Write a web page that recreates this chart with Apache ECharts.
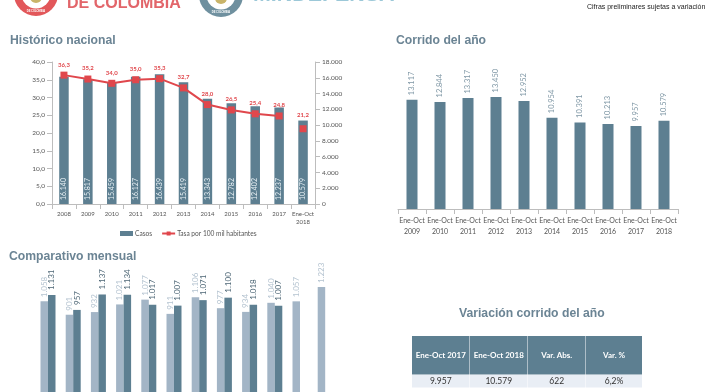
<!DOCTYPE html>
<html><head><meta charset="utf-8">
<style>html,body{margin:0;padding:0;background:#fff;overflow:hidden}#c{width:706px;height:392px}</style>
<script src="https://cdn.jsdelivr.net/npm/echarts@6/dist/echarts.min.js"></script>
</head><body><div id="c"></div>
<script>
const histYears = ['2008','2009','2010','2011','2012','2013','2014','2015','2016','2017','Ene-Oct\n2018'];
const histCases = [16140,15817,15459,16127,16439,15419,13343,12782,12402,12237,10579];
const histRate = [36.3,35.2,34.0,35.0,35.3,32.7,28.0,26.5,25.4,24.8,null];
const histRateLast = [null,null,null,null,null,null,null,null,null,null,21.2];
const ytdYears = ['Ene-Oct\n2009','Ene-Oct\n2010','Ene-Oct\n2011','Ene-Oct\n2012','Ene-Oct\n2013','Ene-Oct\n2014','Ene-Oct\n2015','Ene-Oct\n2016','Ene-Oct\n2017','Ene-Oct\n2018'];
const ytdCases = [13117,12844,13317,13450,12952,10954,10391,10213,9957,10579];
const months = ['Ene','Feb','Mar','Abr','May','Jun','Jul','Ago','Sep','Oct','Nov','Dic'];
const month2017 = [1058,901,932,1021,1077,911,1106,977,934,1040,1057,1223];
const month2018 = [1131,957,1137,1134,1017,1007,1071,1100,1018,1007,null,null];
const tableHead = ['Ene-Oct 2017','Ene-Oct 2018','Var. Abs.','Var. %'];
const tableRow = ['9.957','10.579','622','6,2%'];

const TEAL='#5d7f91', LIGHT='#a3b5c6', RED='#e0474c', TITLE='#6b8494', F='Lato, "Open Sans", sans-serif';
const dots = v => v==null ? '' : String(v).replace(/\B(?=(\d{3})+$)/g,'.');
const comma = v => Number(v).toFixed(1).replace('.',',');
const axisLine = {lineStyle:{color:'#bdbdbd',width:1}};
const title = (t,x,y) => ({type:'text',x,y,style:{text:t,fill:TITLE,font:'bold 12.2px "Liberation Sans", Arial, sans-serif'},silent:true});

const colX=[412,470,528,586], colW=[57.5,57.5,57.5,56];
const tableEls=[];
tableHead.forEach((h,i)=>{
  tableEls.push({type:'rect',shape:{x:colX[i],y:336,width:colW[i],height:38.5},style:{fill:TEAL},silent:true});
  tableEls.push({type:'rect',shape:{x:colX[i],y:375,width:colW[i],height:12.5},style:{fill:'#e9eef5'},silent:true});
  tableEls.push({type:'text',x:colX[i]+colW[i]/2,y:355,style:{text:h,fill:'#fff',font:'bold 8px '+F,align:'center',verticalAlign:'middle'},silent:true});
  tableEls.push({type:'text',x:colX[i]+colW[i]/2,y:381.5,style:{text:tableRow[i],fill:'#333',font:'8.5px '+F,align:'center',verticalAlign:'middle'},silent:true});
});

const logoEls=[
  {type:'circle',shape:{cx:36,cy:-6,r:22},style:{fill:'#e2575a'},silent:true},
  {type:'circle',shape:{cx:36,cy:-6,r:14.5},style:{fill:'#fff'},silent:true},
  {type:'circle',shape:{cx:36,cy:-3,r:6},style:{fill:'#c9b46a'},silent:true},
  {type:'text',x:36,y:11.5,style:{text:'DE COLOMBIA',fill:'#fff',font:'bold 2.6px sans-serif',align:'center',verticalAlign:'middle'},silent:true},
  {type:'text',x:67,y:3.5,style:{text:'DE COLOMBIA',fill:'#e2656a',font:'bold 16px "Liberation Sans", Arial, sans-serif',verticalAlign:'middle'},silent:true},
  {type:'circle',shape:{cx:221,cy:-5,r:22},style:{fill:'#6f909f'},silent:true},
  {type:'circle',shape:{cx:221,cy:-5,r:14.5},style:{fill:'#fff'},silent:true},
  {type:'circle',shape:{cx:221,cy:-2,r:6},style:{fill:'#c9b46a'},silent:true},
  {type:'text',x:221,y:12.5,style:{text:'DE COLOMBIA',fill:'#fff',font:'bold 2.6px sans-serif',align:'center',verticalAlign:'middle'},silent:true},
  {type:'text',x:253,y:-5.2,style:{text:'MINDEFENSA',fill:'#9cc8d8',font:'bold 21.4px "Liberation Sans", Arial, sans-serif',verticalAlign:'middle'},silent:true},
  {type:'text',x:587,y:7.5,style:{text:'Cifras preliminares sujetas a variación',fill:'#222',font:'7px "Liberation Sans", Arial, sans-serif',verticalAlign:'middle'},silent:true}
];

const chart = echarts.init(document.getElementById('c'),null,{renderer:'canvas'});
chart.setOption({
  animation:false,
  backgroundColor:'#fff',
  textStyle:{fontFamily:F},
  grid:[
    {left:52,top:62,width:263,height:142},
    {left:398,top:59,width:280,height:150},
    {left:35.4,top:280.5,width:302.4,height:123.5}
  ],
  legend:{
    left:115,top:225,itemWidth:13,itemHeight:5,itemGap:9,
    textStyle:{fontSize:6.6,color:'#555',fontFamily:F,padding:[0,0,0,-3]},
    data:[{name:'Casos',icon:'rect',itemStyle:{color:TEAL}},{name:'Tasa por 100 mil habitantes'}]
  },
  xAxis:[
    {type:'category',gridIndex:0,data:histYears,axisLine,axisTick:{show:true,lineStyle:{color:'#bdbdbd'}},axisLabel:{fontSize:6,color:'#555',interval:0,lineHeight:8,margin:6}},
    {type:'category',gridIndex:1,data:ytdYears,axisLine,axisTick:{show:true,lineStyle:{color:'#bdbdbd'}},axisLabel:{fontSize:7,color:'#555',interval:0,lineHeight:11,margin:6}},
    {type:'category',gridIndex:2,data:months,axisLine:{show:false},axisTick:{show:false},axisLabel:{show:false}}
  ],
  yAxis:[
    {type:'value',gridIndex:0,min:0,max:40,interval:5,splitLine:{show:false},axisLine:{show:true,lineStyle:axisLine.lineStyle},axisTick:{show:true,lineStyle:{color:'#bdbdbd'}},axisLabel:{fontSize:6.5,color:'#555',margin:7,formatter:comma}},
    {type:'value',gridIndex:0,min:0,max:18000,interval:2000,position:'right',splitLine:{show:false},axisLine:{show:true,lineStyle:axisLine.lineStyle},axisTick:{show:true,lineStyle:{color:'#bdbdbd'}},axisLabel:{fontSize:6.5,color:'#555',margin:7,formatter:dots}},
    {type:'value',gridIndex:1,min:0,max:18000,show:false,splitLine:{show:false}},
    {type:'value',gridIndex:2,min:0,max:1300,show:false,splitLine:{show:false}}
  ],
  series:[
    {name:'Casos',type:'bar',xAxisIndex:0,yAxisIndex:1,data:histCases,barWidth:9.5,itemStyle:{color:TEAL},
      label:{show:true,position:'insideBottom',rotate:90,align:'left',verticalAlign:'middle',distance:4,fontSize:7,color:'#e8f0f4',formatter:p=>dots(p.value)}},
    {name:'Tasa por 100 mil habitantes',type:'line',xAxisIndex:0,yAxisIndex:0,data:histRate,connectNulls:false,symbol:'rect',symbolSize:7,
      lineStyle:{color:RED,width:2},itemStyle:{color:RED},
      label:{show:true,position:'top',distance:4,fontSize:6,fontWeight:'bold',color:RED,formatter:p=>comma(p.value)}},
    {name:'Tasa por 100 mil habitantes',type:'line',xAxisIndex:0,yAxisIndex:0,data:histRateLast,symbol:'rect',symbolSize:7,
      lineStyle:{color:RED,width:2},itemStyle:{color:RED},
      label:{show:true,position:'top',distance:7,fontSize:6,fontWeight:'bold',color:RED,formatter:p=>comma(p.value)}},
    {name:'Corrido',type:'bar',xAxisIndex:1,yAxisIndex:2,data:ytdCases,barWidth:11,itemStyle:{color:TEAL},
      label:{show:true,position:'top',rotate:90,align:'left',verticalAlign:'middle',distance:4.5,fontSize:7.5,color:'#7f97a5',formatter:p=>dots(p.value)}},
    {name:'2017',type:'bar',xAxisIndex:2,yAxisIndex:3,data:month2017,barWidth:7.5,barGap:'0%',itemStyle:{color:LIGHT},
      label:{show:true,position:'top',rotate:90,align:'left',verticalAlign:'middle',distance:4,fontSize:8,color:'#b4c3d0',formatter:p=>dots(p.value)}},
    {name:'2018',type:'bar',xAxisIndex:2,yAxisIndex:3,data:month2018,barWidth:7.5,itemStyle:{color:TEAL},
      label:{show:true,position:'top',rotate:90,align:'left',verticalAlign:'middle',distance:5,fontSize:8,color:'#4d6675',formatter:p=>dots(p.value)}}
  ],
  graphic:{elements:[
    title('Histórico nacional',10,35),
    title('Corrido del año',396,34.5),
    title('Comparativo mensual',9,250.5),
    title('Variación corrido del año',459,307.5),
    ...logoEls,
    ...tableEls
  ]}
});
</script></body></html>
